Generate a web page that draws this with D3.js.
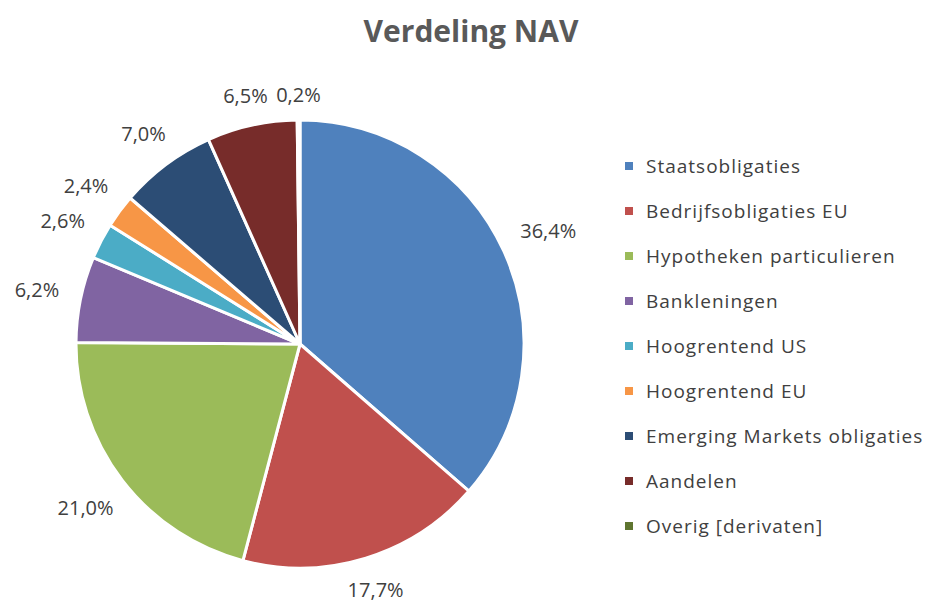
<!DOCTYPE html>
<html>
<head>
<meta charset="utf-8">
<script src="https://cdn.jsdelivr.net/npm/d3@7"></script>
<style>
  body { margin: 0; background: #fff; }
  text { font-family: "Open Sans", "Liberation Sans", sans-serif; }
</style>
</head>
<body>
<svg id="chart" width="927" height="603"></svg>
<script>
// data
var categories = ["Staatsobligaties", "Bedrijfsobligaties EU", "Hypotheken particulieren",
    "Bankleningen", "Hoogrentend US", "Hoogrentend EU", "Emerging Markets obligaties",
    "Aandelen", "Overig [derivaten]"];
var values = [36.4, 17.7, 21.0, 6.2, 2.6, 2.4, 7.0, 6.5, 0.2];
var colors = ["#4F81BD", "#C0504D", "#9BBB59", "#8064A2", "#4BACC6", "#F79646",
    "#2C4D75", "#772C2A", "#5F7530"];

var svg = d3.select("#chart"),
    cx = 300, cy = 344,
    radius = 224,
    labelBase = 246;

var data = categories.map(function(c, i) { return {name: c, value: values[i]}; });

var color = d3.scaleOrdinal().domain(categories).range(colors);

var pie = d3.pie().sort(null).value(function(d) { return d.value; });
var arc = d3.arc().innerRadius(0).outerRadius(radius);

svg.append("text")
    .attr("x", 471).attr("y", 42)
    .attr("text-anchor", "middle")
    .attr("font-size", 30).attr("font-weight", "bold")
    .attr("fill", "#595959")
    .text("Verdeling NAV");

var g = svg.append("g").attr("transform", "translate(" + cx + "," + cy + ")");

var arcs = pie(data);

g.selectAll("path")
    .data(arcs)
  .enter().append("path")
    .attr("d", arc)
    .attr("fill", function(d) { return color(d.data.name); })
    .attr("stroke", "#fff")
    .attr("stroke-width", 3)
    .attr("stroke-linejoin", "round");

var fmt = function(v) { return d3.format(".1f")(v).replace(".", ",") + "%"; };

// labels outside the slice, pushed out by half their box
g.selectAll(".lbl")
    .data(arcs)
  .enter().append("text")
    .attr("class", "lbl")
    .attr("text-anchor", "middle")
    .attr("dy", "0.35em")
    .attr("font-size", 20)
    .attr("fill", "#404040")
    .text(function(d) { return fmt(d.data.value); })
    .attr("transform", function(d) {
      var a = (d.startAngle + d.endAngle) / 2,
          s = Math.sin(a), c = Math.cos(a),
          w = this.getBBox().width / 2,
          r = labelBase + Math.abs(s) * w + Math.abs(c) * 3;
      return "translate(" + (s * r) + "," + (-c * r) + ")";
    });

// legend
var legend = svg.append("g").attr("transform", "translate(625,166)");
var item = legend.selectAll("g")
    .data(categories)
  .enter().append("g")
    .attr("transform", function(d, i) { return "translate(0," + (i * 45) + ")"; });

item.append("rect")
    .attr("x", 0).attr("y", -4)
    .attr("width", 8).attr("height", 8)
    .attr("fill", function(d) { return color(d); });

item.append("text")
    .attr("x", 21)
    .attr("dy", "0.35em")
    .attr("font-size", 19)
    .attr("letter-spacing", 1.0)
    .attr("fill", "#404040")
    .text(function(d) { return d; });
</script>
</body>
</html>
